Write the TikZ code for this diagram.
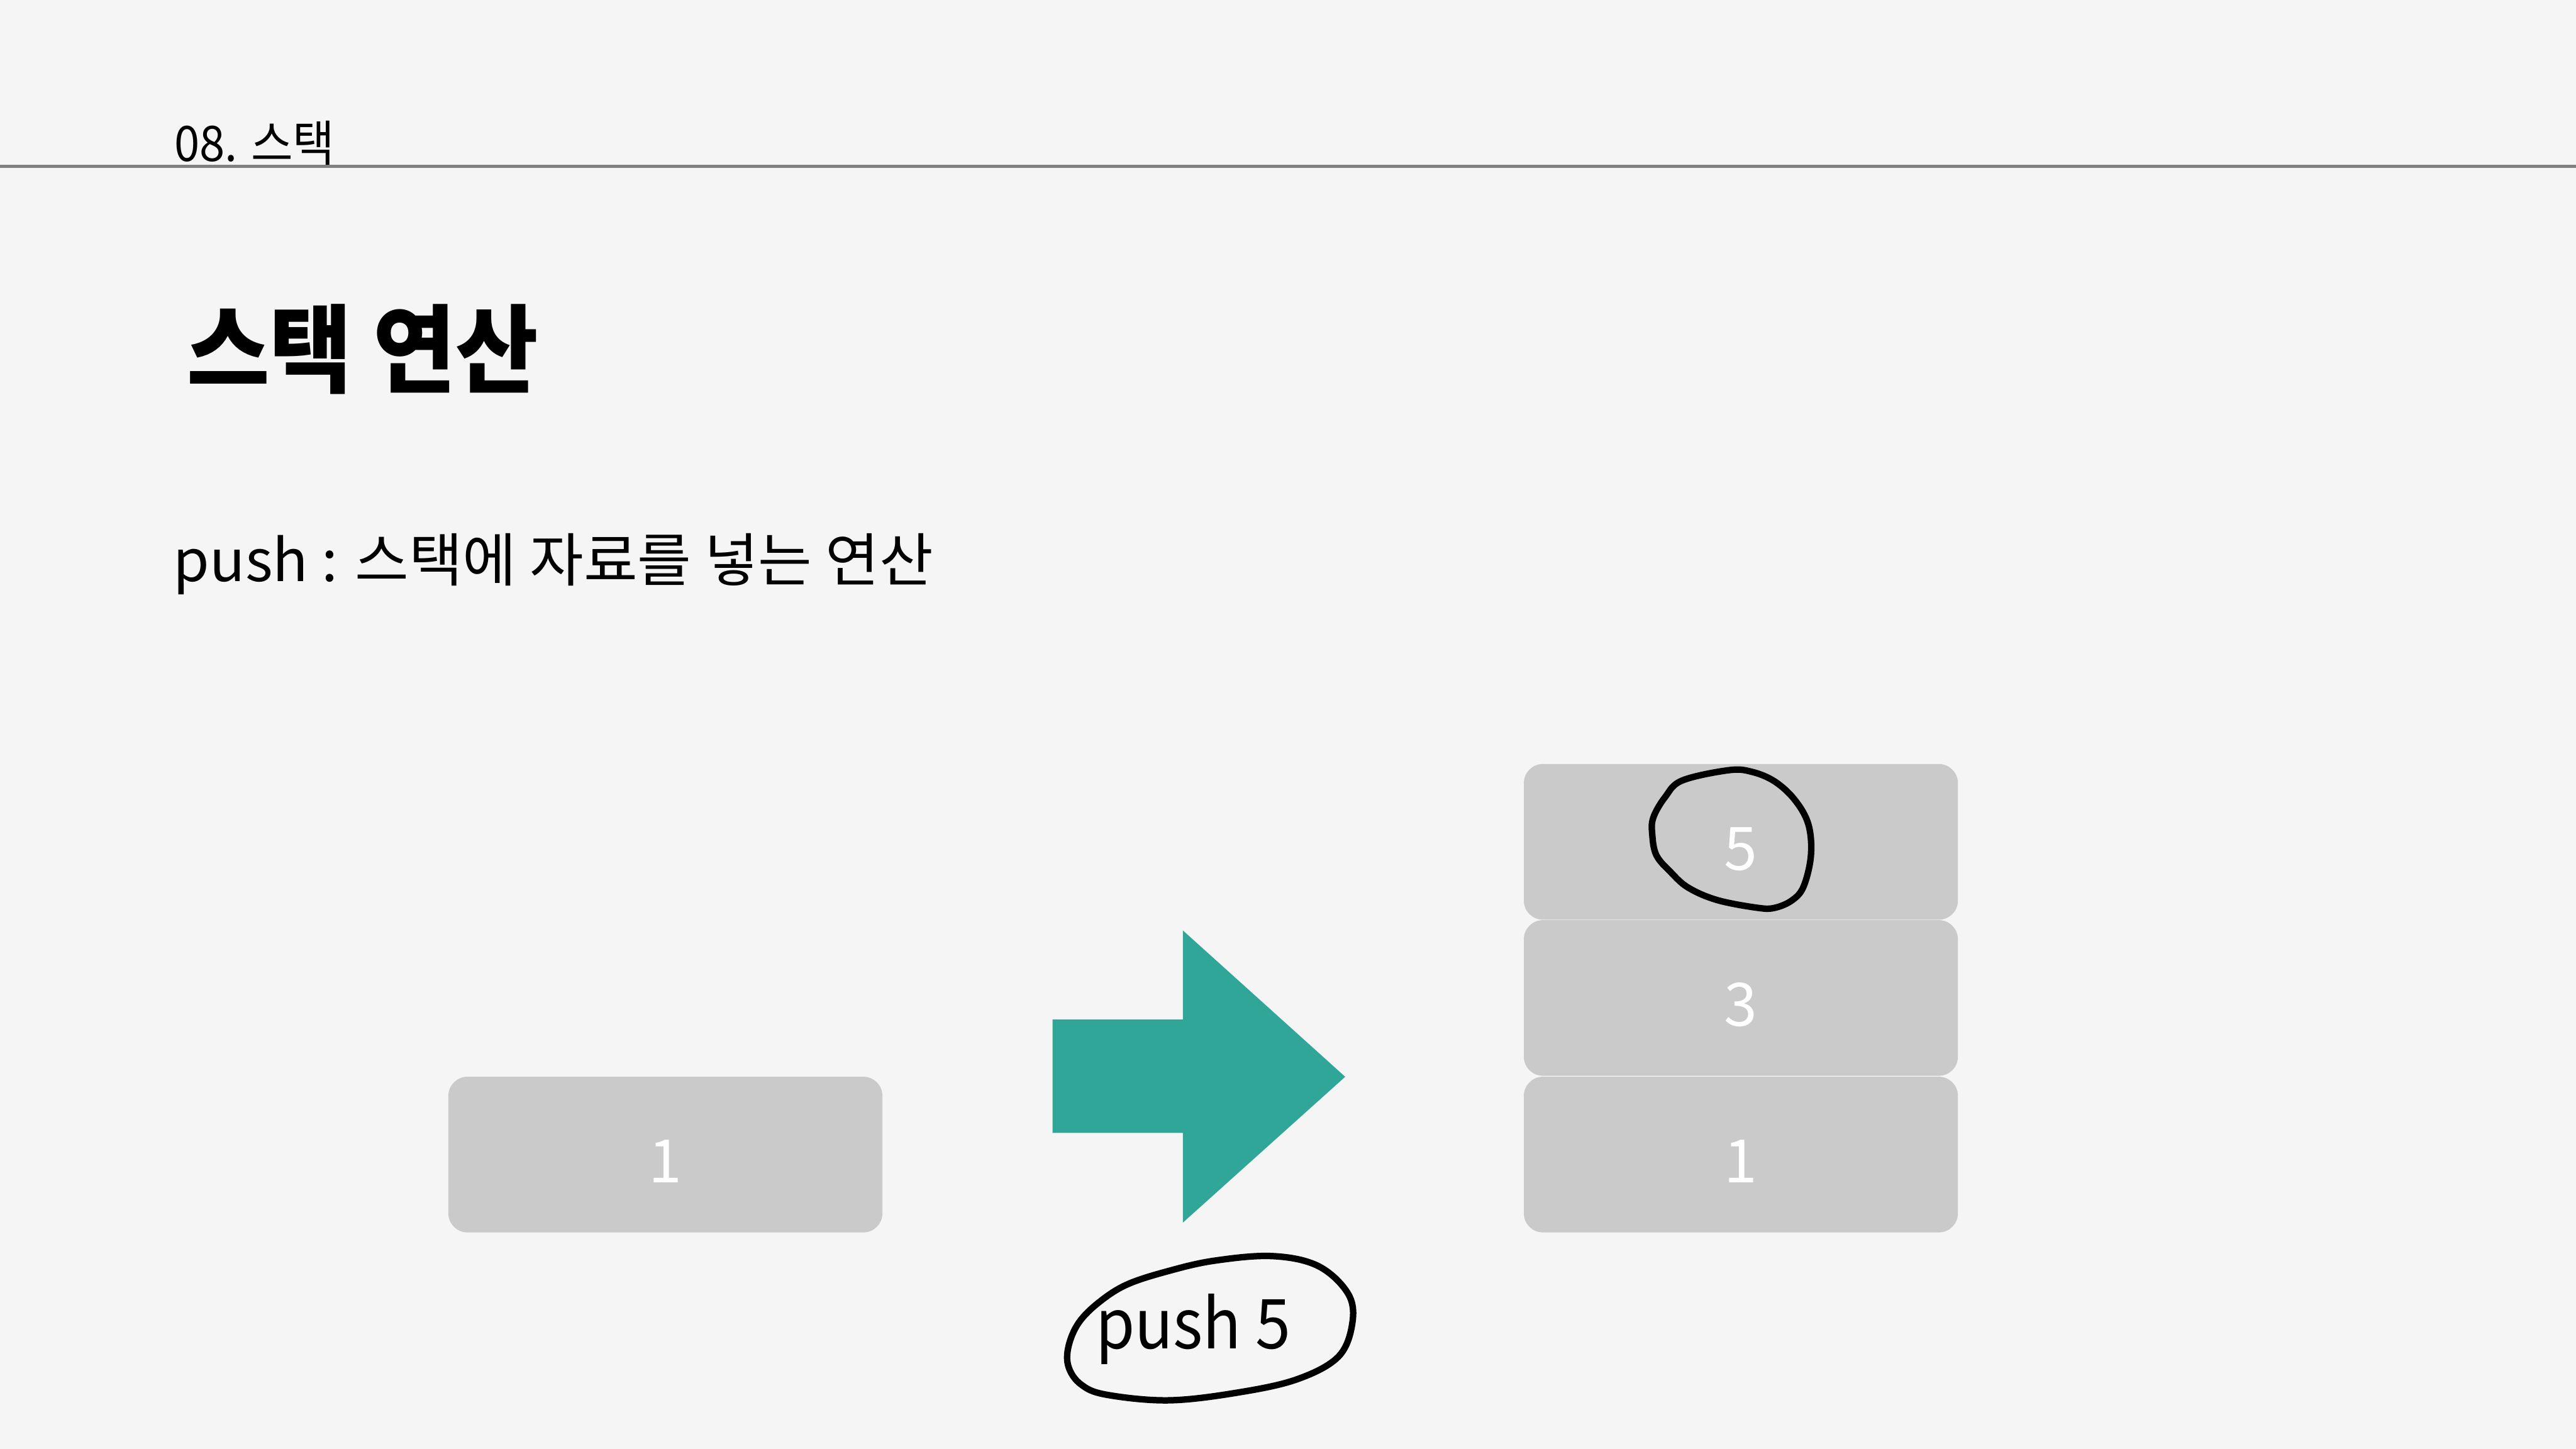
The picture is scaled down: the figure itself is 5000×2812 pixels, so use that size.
\documentclass[tikz,border=0pt]{standalone}
\usepackage{fontspec}
\usepackage{graphicx}
\setmainfont{Noto Sans CJK KR}
\definecolor{bgc}{RGB}{245,245,245}
\definecolor{rulec}{RGB}{128,128,128}
\definecolor{cellc}{RGB}{202,202,202}
\definecolor{tealc}{RGB}{48,166,153}
\tikzset{
  cell/.style={fill=cellc, draw=none, rounded corners=0.37cm, minimum width=8.42cm, minimum height=3.02cm, inner sep=0pt},
  digit/.style={anchor=base, inner sep=0pt, text=white, font=\fontsize{33}{33}\selectfont},
  txt/.style={anchor=base west, inner sep=0pt, text=black},
  marker/.style={draw=black, line width=0.125cm, line cap=round, line join=round}
}
\begin{document}
\begin{tikzpicture}[x=0.01cm,y=-0.01cm]
\fill[bgc] (0,0) rectangle (5000,2812);
\useasboundingbox (0,0) rectangle (5000,2812);
% header
\coordinate (hl) at (0,323);
\coordinate (hr) at (5000,323);
\draw[rulec, line width=0.07cm] (hl) -- (hr);
\node[txt, font=\fontsize{27}{27}\selectfont] (hdr) at (338,313) {\scalebox{0.93}[1]{08. 스택}};
% title
\node[txt, font=\bfseries\fontsize{53}{53}\selectfont] (title) at (362,748) {\scalebox{0.937}[1]{스택 연산}};
% description
\node[txt, font=\fontsize{32}{32}\selectfont] (desc) at (336,1129) {\scalebox{1.01}[1]{push : 스택에 자료를 넣는 연산}};
% left stack
\node[cell] (L1) at (1291.5,2241) {};
\node[digit] (L1t) at ([yshift=-0.55cm]L1.center) {1};
% right stack
\node[cell] (R5) at (3379,1634) {};
\node[cell] (R3) at (3379,1937) {};
\node[cell] (R1) at (3379,2241) {};
\node[digit] (R5t) at ([yshift=-0.55cm]R5.center) {5};
\node[digit] (R3t) at ([yshift=-0.55cm]R3.center) {3};
\node[digit] (R1t) at ([yshift=-0.55cm]R1.center) {1};
% arrow
\fill[tealc] (2043,1979) -- (2296,1979) -- (2296,1806) -- (2611,2090) -- (2296,2373) -- (2296,2199) -- (2043,2199) -- cycle;
% push 5 label
\node[txt, font=\fontsize{38}{38}\selectfont] (push) at (2126,2618) {\scalebox{0.92}[1]{push 5}};
% hand-drawn loops
\draw[marker] plot[smooth cycle, tension=0.6] coordinates {
 (3355,1495) (3265,1515) (3232,1547) (3209,1587) (3207,1620) (3215,1660)
 (3243,1693) (3277,1723) (3333,1747) (3411,1762) (3445,1762) (3479,1747)
 (3501,1720) (3515,1660) (3510,1600) (3484,1553) (3445,1517) (3400,1498)};
\draw[marker] plot[smooth cycle, tension=0.6] coordinates {
 (2469,2438) (2357,2447) (2268,2467) (2188,2493) (2134,2527) (2094,2567)
 (2074,2613) (2074,2653) (2098,2687) (2147,2707) (2268,2718) (2402,2703)
 (2518,2677) (2598,2633) (2625,2567) (2616,2510) (2558,2457)};
\end{tikzpicture}
\end{document}
